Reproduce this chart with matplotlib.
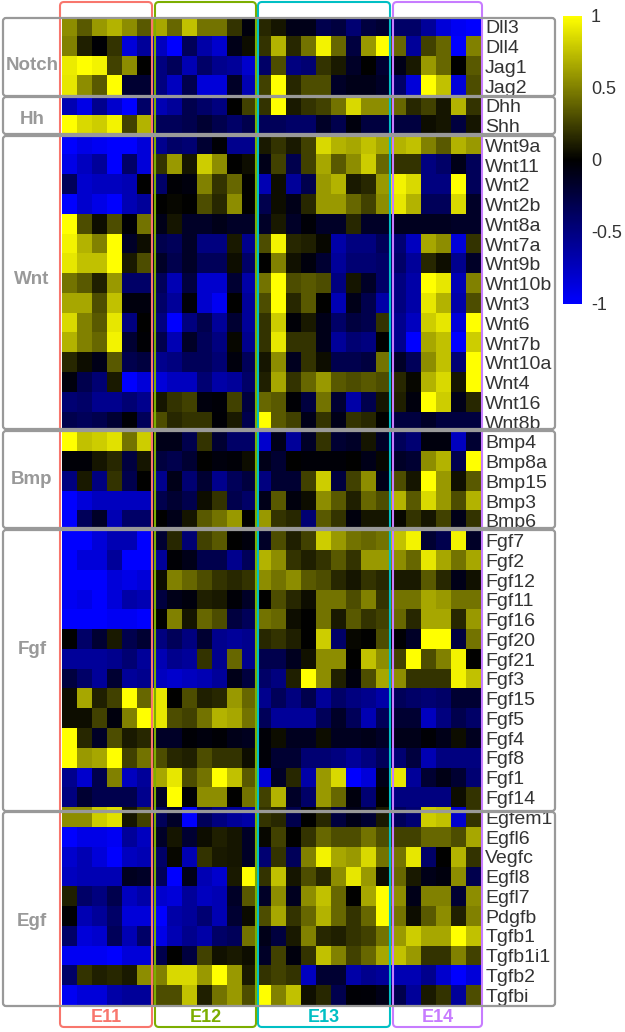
import numpy as np
import matplotlib
matplotlib.use("Agg")
import matplotlib.pyplot as plt
from matplotlib.colors import LinearSegmentedColormap
from matplotlib.patches import FancyBboxPatch

plt.rcParams["font.family"] = ["Liberation Sans", "DejaVu Sans"]

notch_genes = ["Dll3", "Dll4", "Jag1", "Jag2"]
notch_vals = [
    [.55, .35, .6, .7, .55, .35, .65, .4, .75, .45, .45, .2, -.05, .15, .08, -.1, -.1, -.3, -.25, -.45, -.25, -.2, -.4, -.4, -.6, -.85, -.95, -1],
    [.5, .12, -.02, .2, -.85, -.6, -.75, -1, -.35, -.65, -.8, -.1, .05, .2, .7, .15, .45, .95, .4, -.25, .6, 1, .4, -.6, .25, .4, -1, .5],
    [.92, 1, .95, .25, .55, 0, -.5, -.35, -.7, -.4, -.55, -.6, -.8, -.4, .3, -.5, -.45, .2, .1, -.15, 0, -.2, -.1, .1, .6, .4, 0, .35],
    [.9, .55, .35, 1, -.2, -.2, -.5, -.75, -.3, -.85, -.85, -.15, -.7, .25, 1, .15, .3, .3, -.15, -.1, -.1, -.15, -.4, -.85, 1, .75, -.85, .3],
]
hh_genes = ["Dhh", "Shh"]
hh_vals = [
    [-.7, -.9, -.55, -.8, -1, -.4, -.7, -.6, -.3, -.4, -.5, 0, .25, .2, 1, .1, .2, .25, .45, .85, .55, .55, .4, .15, .25, .08, .7, .2],
    [1, .85, .8, .95, .25, .7, -.35, -.35, -.3, -.2, -.3, -.4, -.3, -.35, -.35, -.4, -.4, -.15, -.3, -.05, -.25, -.25, -.25, -.25, .05, .08, -.25, .08],
]
wnt_genes = ["Wnt9a", "Wnt11", "Wnt2", "Wnt2b", "Wnt8a", "Wnt7a", "Wnt9b", "Wnt10b", "Wnt3",
             "Wnt6", "Wnt7b", "Wnt10a", "Wnt4", "Wnt16", "Wnt8b"]
wnt_vals = [
    [-1, -.9, -.95, -1, -1, -.85, -.55, -.4, -.45, -.2, -.02, -.55, -.55, .1, .2, .1, .25, .85, .7, .65, .75, .65, .7, .75, .5, .35, .7, .6],
    [-.9, -.75, -.6, -1, -.4, -.85, .2, .6, .08, .8, .55, 0, .05, -.1, .25, -.3, .25, .65, .35, .55, .8, .4, .2, .2, -.5, -.4, -.1, -.35],
    [-.35, -.8, -.75, -.75, -.7, 0, -.4, -.02, -.05, .5, .2, .4, 0, -.7, .05, -.6, -.3, .6, .7, .1, .15, .6, .95, .85, -.5, -.5, 1, -.35],
    [-1, -.8, -.9, -1, -.7, -.6, 0, .03, 0, .3, .15, .55, 0, -.3, .05, -.1, .15, .6, .6, .4, .25, .55, .9, .7, -.35, -.35, .85, -.15],
    [1, .3, .05, .3, -.02, .45, -.1, .08, -.15, -.15, -.1, -.15, -.15, -.15, .1, -.15, -.03, -.15, -.15, .15, -.15, -.15, -.12, -.12, -.12, -.12, -.15, -.15],
    [.95, .7, .5, 1, -.15, .05, -.3, -.35, -.15, -.5, -.5, .1, -.55, .3, .95, .15, .12, .03, -.65, -.5, -.5, -.35, -.45, -.75, .65, .55, -.85, .2],
    [.9, .75, .75, 1, .1, .3, -.15, -.3, -.15, -.35, -.35, .05, -.4, 0, .5, .07, -.05, -.2, -.6, -.45, -.45, -.4, -.4, -.6, .15, .05, -.55, -.15],
    [.45, .35, .12, .6, -.4, -.4, -.35, -.7, -.25, -.8, -.8, -.2, -.65, .45, 1, .3, .35, .3, -.5, .08, -.15, -.4, -.5, -.65, 1, .9, -.7, .5],
    [.65, .65, .3, .75, -.05, -.05, -.4, -.6, -.03, -.8, -.95, 0, -.6, .3, 1, .15, .35, 0, -.7, -.1, -.3, -.65, -.5, -.65, .9, .7, -.65, .3],
    [.85, .5, .35, .9, -.5, 0, -.5, -1, -.5, -.3, -.6, -.2, -.6, .2, .8, -.03, .1, -.1, -.4, -.25, -.3, .2, -.55, -.75, .8, .9, -.85, 1],
    [.7, .5, .4, .95, -.2, -.02, -.3, -.7, -.15, -.35, -.5, .03, -.55, .2, .9, .2, .2, -.1, -.6, -.45, -.5, 0, -.55, -1, .65, .75, -1, .8],
    [.15, .05, -.1, .35, -.3, -.25, -.55, -.5, -.35, -.35, -.45, -.05, -.35, .08, .55, -.12, .2, .05, -.3, -.3, -.25, .45, -.15, -.35, .55, .75, -.45, 1],
    [-.05, -.3, -.45, .1, -1, -.85, -.85, -.75, -.75, -.45, -.65, -.6, -.4, .12, .65, .2, .4, .6, .35, .3, .35, .3, .15, .03, .7, .85, .08, 1],
    [-.45, -.4, -.55, -.55, -.45, -.55, .08, .2, .25, -.05, -.03, .25, -.25, .4, .35, -.02, -.25, .45, -.2, -.65, -.3, .08, .12, -.05, 1, .8, -.1, .15],
    [-.3, -.35, -.3, -.2, -.02, -.35, .3, .15, .2, .2, -.02, .1, -.3, 1, .35, .25, -.1, .2, -.1, .2, .15, 0, -.25, -.25, -.15, -.25, -.25, -.25],
]
bmp_genes = ["Bmp4", "Bmp8a", "Bmp15", "Bmp3", "Bmp6"]
bmp_vals = [
    [1, .75, .8, .88, .45, .8, -.1, -.1, -.3, .2, -.2, -.4, -.4, -.8, -.1, -.6, -.15, .2, -.2, -.15, .08, -.15, -.35, -.45, -.05, -.05, -.75, -.2],
    [-.03, -.03, .08, .15, -.25, .08, -.25, -.3, -.2, 0, -.05, -.03, .05, -.1, -.2, 0, -.03, -.03, -.03, 0, -.1, .03, -.15, -.2, .55, .7, -.3, 1],
    [-.5, .1, -.5, .2, -.3, 0, -.55, -.1, -.45, -.2, -.55, -.35, -.25, -.5, -.2, -.2, .25, .8, -.25, .25, .55, -.1, .3, .08, 1, .6, .06, .35],
    [-1, -.85, -.75, -.75, -.75, -.75, -.3, -.2, -.3, .05, .2, -.3, -.4, -.1, .35, -.05, .05, .55, .35, .12, .4, .3, .7, .35, .85, .6, .3, .7],
    [-1, -.35, -.15, -.7, -.4, -.4, 0, -.1, .08, .35, .45, .6, 0, .6, .2, .15, -.45, .35, .2, -.05, .08, .08, .03, .2, .08, .25, -.1, .2],
]
fgf_genes = ["Fgf7", "Fgf2", "Fgf12", "Fgf11", "Fgf16", "Fgf20", "Fgf21", "Fgf3", "Fgf15", "Fgf5",
             "Fgf4", "Fgf8", "Fgf1", "Fgf14"]
fgf_vals = [
    [-1, -1, -.85, -.7, -.7, -1, -.2, .15, -.45, .25, .35, 0, -.05, -.15, .3, .12, .25, .8, .6, .45, .4, .45, .75, .95, -.2, -.3, .95, -.15],
    [-1, -.85, -.85, -.6, -1, -1, -.6, -.02, -.1, -.3, -.3, -.55, -.35, .7, .55, .2, .12, .2, .35, .2, .6, .6, .55, .4, .9, .65, .45, .65],
    [-1, -1, -1, -.85, -.9, -.85, .05, .5, .4, .3, .2, .15, .2, .55, .45, .55, .35, .3, .15, .08, .2, .15, .1, .1, .35, .15, -.1, .07],
    [-.95, -.9, -1, -.85, -.65, -.7, -.25, -.1, -.05, .12, .1, -.03, -.15, 0, .3, .15, .05, .45, .45, .3, .5, .2, .45, .45, .65, .6, .45, .45],
    [-1, -1, -1, -.95, -.95, -1, 0, .5, .08, .4, .3, -.25, -.35, .45, .4, .05, 0, .45, .1, .35, .2, .25, .4, .15, .65, .65, .15, .6],
    [0, -.4, -.2, .1, -.3, -.2, -.5, -.35, -.5, -.2, -.55, -.6, -.55, .15, .2, .12, 0, .8, -.4, .03, 0, .3, -.02, -.15, 1, 1, -.25, .45],
    [-.6, -.6, -.6, -.55, -.45, -.6, -.7, -.55, -.6, .2, -.55, .4, -.55, -.3, -.3, -.12, .07, .55, .55, 0, .75, .55, .25, 1, .3, .5, .95, 0],
    [-.25, -.4, -.6, -.2, -.6, -.55, -.75, -.8, -.75, -.7, -.6, -.1, -.25, -.4, -.5, .12, 1, .55, .12, -.05, .3, .65, .55, .2, .2, .2, .95, .75],
    [.05, .65, .12, .25, 1, .4, .9, 0, .3, .12, .15, .6, .4, -.55, -.35, -.5, -.3, -.6, -.4, -.5, -.55, -.65, -.35, -.4, -.45, -.4, -.2, -.2],
    [.05, .05, .25, -.05, .5, 1, .9, .3, .25, .45, .7, .65, .45, -.35, -.6, -.6, -.6, -.35, -.15, -.35, -.7, -.35, -.2, -.2, -.75, -.5, -.3, -.4],
    [1, .15, -.15, .3, .1, .15, -.15, -.15, -.02, -.05, -.02, -.1, -.12, -.03, .05, -.12, -.12, .05, -.12, -.12, -.1, -.15, -.1, -.1, -.02, -.1, .05, -.12],
    [1, .6, .65, 1, .25, .45, .3, .15, .12, .3, .2, .2, .05, -.03, -.2, -.2, -.45, -.45, -.5, -.6, -.5, -.35, -.45, -.25, -.7, -.5, -.5, -.5],
    [-.55, -.8, -.3, .5, -.75, -.6, .65, .9, .3, .45, 1, .75, .35, -.85, -.15, .15, -.65, .6, .85, -1, -.85, -.1, .9, -.6, -.2, -.08, -.2, -.45],
    [-.5, -.2, -.3, -.3, -.3, -.55, -.15, 1, -.02, .55, .55, 0, .45, .25, .7, -.15, -.4, .6, .4, -.05, -.45, 0, -.5, -.5, -.5, -.5, .05, .2],
]
egf_genes = ["Egfem1", "Egfl6", "Vegfc", "Egfl8", "Egfl7", "Pdgfb", "Tgfb1", "Tgfb1i1", "Tgfb2", "Tgfbi"]
egf_vals = [
    [.55, .55, .8, .88, .08, .25, -.35, -.15, -1, -.35, -.5, -.6, -.65, .2, .15, -.3, 0, .15, -.25, -.1, -.2, .1, -.35, -.45, .8, .75, -.8, .2],
    [-1, -.9, -.9, -.95, -.6, -.75, -.15, .08, -.2, .05, .12, .08, -.15, .03, .25, 0, .2, .4, .3, .3, .45, .3, .25, .25, .4, .4, .3, .65],
    [-.8, -.7, -.85, -1, -.75, -.7, -.4, .03, -.7, .2, .1, .08, -.15, -.45, .2, -.35, .5, .95, .65, .6, .85, .45, .45, .9, -.4, 0, .7, .2],
    [-.75, -.7, -.7, -.7, -.12, -.15, -.35, -1, -.1, -.7, -.8, .1, 1, .2, .75, .08, .3, .15, .55, .9, .6, .05, .4, .1, -.1, -.05, .55, -.3],
    [.12, -.4, -.5, -.3, -.75, -.65, -.8, -.85, -.6, -.75, -.7, -.15, .35, -.15, .55, -.12, .55, .75, .4, 0, .65, 1, .55, -.1, .5, .5, -.2, .55],
    [-.02, -.7, -.6, -.4, -.85, -.85, -1, -.65, -.6, -.45, -.7, -.2, .04, .3, .65, .2, .4, .7, .4, .2, .4, 1, .45, .05, .35, .55, .12, .5],
    [-.4, -.85, -.8, -.35, -.7, -.4, -.9, -.7, -.55, -.65, -.4, -.35, .45, -.1, -.25, .1, .5, .15, .12, .2, .25, .45, .6, .8, .65, .65, 1, .75],
    [-.95, -.95, -.95, -1, -.85, -.85, -.3, 0, -.25, .25, .07, .1, .05, -.15, .25, -.05, .2, .75, .5, .25, .4, .65, .75, .6, .2, .2, .5, .25],
    [-.4, .2, .12, .15, .1, .55, .5, .85, .85, .6, 1, .6, .1, .2, .25, .2, -.75, -.2, -.2, -.65, -.55, -.6, -.7, -.7, -.55, -.8, -1, -.85],
    [-.95, -.85, -.85, -.65, -.6, -.6, .3, .3, .75, .12, .45, .6, .3, 1, .5, .75, .06, .15, -.3, -.02, -.03, -.1, -.3, -.6, .1, .2, -.6, .3],
]

genes = notch_genes + hh_genes + wnt_genes + bmp_genes + fgf_genes + egf_genes
values = np.array(notch_vals + hh_vals + wnt_vals + bmp_vals + fgf_vals + egf_vals)

stages = ["E11", "E12", "E13", "E14"]
stage_colors = ["#F8766D", "#7CAE00", "#00BFC4", "#C77CFF"]
stage_boxes = [(60, 152), (155, 256), (258, 390), (393, 482)]

groups = ["Notch", "Hh", "Wnt", "Bmp", "Fgf", "Egf"]
group_boxes = [(18, 96), (97, 134), (136, 429), (431, 528), (530, 811), (812, 1006)]
group_label_y = [66, 120, 279, 480, 649, 921]

W, H = 625, 1032
cmap = LinearSegmentedColormap.from_list("byk", ["#0000FF", "#000000", "#FFFF00"])

fig = plt.figure(figsize=(W / 100, H / 100), dpi=100)

# heatmap
ax = fig.add_axes([62 / W, 1 - 1005 / H, 419 / W, 988 / H])
im = ax.imshow(values, cmap=cmap, vmin=-1, vmax=1, aspect="auto", interpolation="nearest")
ax.set_xticks([])
ax.yaxis.tick_right()
ax.set_yticks(np.arange(len(genes)))
ax.set_yticklabels(genes, fontsize=14, color="#333333")
ax.tick_params(axis="y", length=0, pad=3)
for s in ax.spines.values():
    s.set_visible(False)

# colour bar
cax = fig.add_axes([563 / W, 1 - 304 / H, 19 / W, 288 / H])
cb = fig.colorbar(im, cax=cax, ticks=[-1, -0.5, 0, 0.5, 1])
cb.ax.set_yticklabels(["-1", "-0.5", "0", "0.5", "1"], fontsize=13, color="#333333")
cb.ax.tick_params(length=0, pad=6.5)
cb.outline.set_visible(False)

# overlay in pixel coordinates for the boxes
over = fig.add_axes([0, 0, 1, 1], facecolor="none")
over.set_xlim(0, W)
over.set_ylim(H, 0)
over.axis("off")

for name, col, (x0, x1) in zip(stages, stage_colors, stage_boxes):
    over.add_patch(FancyBboxPatch((x0 + 3, 5), x1 - x0 - 6, 1019,
                                  boxstyle="round,pad=3,rounding_size=4",
                                  fc="none", ec=col, lw=1.5, zorder=2))
    over.text((x0 + x1) / 2, 1017, name, color=col, fontsize=13, fontweight="bold",
              ha="center", va="center")

for name, (y0, y1), ly in zip(groups, group_boxes, group_label_y):
    over.add_patch(FancyBboxPatch((6, y0 + 3), 546, y1 - y0 - 6,
                                  boxstyle="round,pad=3,rounding_size=3",
                                  fc="none", ec="#999999", lw=1.6, zorder=3))
    over.text(32, ly, name, color="#999999", fontsize=13.5, fontweight="bold",
              ha="center", va="center")

fig.savefig("out.png", dpi=100)
